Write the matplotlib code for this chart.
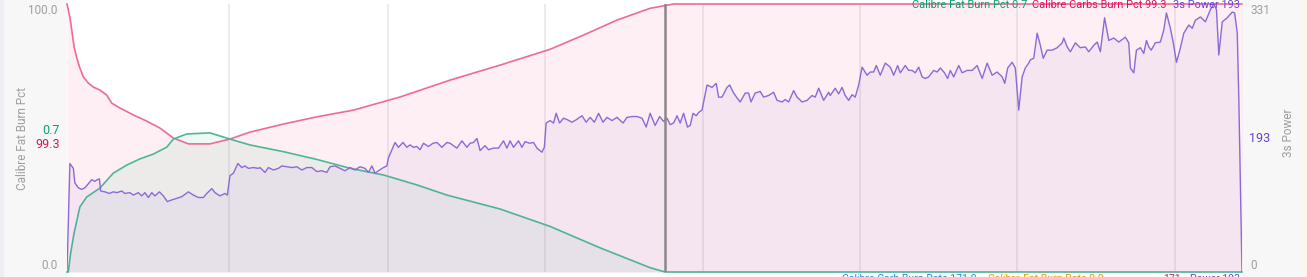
import numpy as np
import matplotlib
matplotlib.use("Agg")
import matplotlib.pyplot as plt
from matplotlib.patches import Rectangle

plt.rcParams['font.family'] = ['Roboto', 'DejaVu Sans']

# ---- data (elapsed seconds) ----
carbs_t = [0, 11, 18, 27, 37, 49, 62, 81, 100, 125, 151, 170, 201, 252, 303, 353, 404,
           461, 543, 619, 695, 822, 949, 1088, 1265, 1455, 1645, 1835, 1962, 2089,
           2215, 2304, 4463]
carbs_pct = [100, 95.1, 90.3, 83.9, 79.9, 76.1, 72.8, 70.5, 69, 67.9, 66, 63, 61.2, 58.6,
             56.3, 53.7, 50, 47.8, 47.8, 49.6, 52.2, 55.2, 57.9, 60.4, 65.3, 71.6, 77.2,
             83.1, 88.4, 94, 98.4, 100, 100]

fat_t = [0, 5, 14, 27, 49, 75, 125, 176, 227, 277, 328, 379, 404, 455, 543, 619, 695,
         822, 949, 1075, 1202, 1329, 1443, 1645, 1835, 2025, 2215, 2272, 4463]
fat_pct = [0, 0, 7.1, 14.6, 24.3, 28, 31.3, 36.9, 39.9, 42.2, 44, 46.6, 49.6, 51.5,
           51.9, 49.6, 47.4, 44.9, 42, 38.7, 36.2, 32.5, 28.7, 23.5, 17, 9, 1.6, 0, 0]

power_t = [0, 11, 24, 30, 43, 56, 68, 81, 94, 106, 115, 123, 128, 144, 161, 176, 189, 208,
           220, 239, 252, 271, 284, 296, 309, 322, 334, 351, 366, 381, 398, 417, 436, 461,
           480, 499, 518, 531, 550, 562, 581, 600, 609, 619, 632, 649, 664, 676, 689, 708,
           727, 733, 752, 765, 784, 803, 816, 835, 854, 873, 892, 911, 930, 949, 968, 987,
           999, 1018, 1037, 1056, 1075, 1094, 1113, 1132, 1145, 1158, 1170, 1183, 1202,
           1215, 1221, 1234, 1246, 1259, 1276, 1291, 1303, 1316, 1329, 1341, 1354, 1373,
           1390, 1405, 1424, 1443, 1455, 1481, 1500, 1519, 1531, 1544, 1557, 1569, 1588,
           1601, 1620, 1639, 1658, 1671, 1683, 1696, 1715, 1728, 1740, 1757, 1772, 1785,
           1804, 1813, 1820, 1835, 1848, 1858, 1871, 1886, 1901, 1918, 1934, 1956, 1972,
           1987, 2003, 2019, 2036, 2051, 2070, 2089, 2112, 2127, 2146, 2165, 2184, 2200,
           2215, 2234, 2251, 2266, 2279, 2291, 2304, 2317, 2329, 2342, 2357, 2367, 2378,
           2390, 2399, 2412, 2421, 2431, 2450, 2466, 2475, 2488, 2507, 2517, 2532, 2545,
           2557, 2576, 2589, 2598, 2614, 2633, 2646, 2665, 2684, 2697, 2716, 2728, 2741,
           2760, 2773, 2792, 2811, 2830, 2842, 2855, 2874, 2893, 2899, 2918, 2931, 2944,
           2956, 2969, 2982, 2994, 3007, 3020, 3039, 3051, 3064, 3074, 3089, 3108, 3127,
           3140, 3155, 3165, 3184, 3197, 3210, 3222, 3235, 3248, 3260, 3273, 3292, 3305,
           3317, 3333, 3345, 3355, 3368, 3387, 3400, 3419, 3438, 3457, 3476, 3495, 3514,
           3533, 3552, 3562, 3573, 3590, 3602, 3615, 3628, 3640, 3653, 3659, 3672, 3685,
           3697, 3708, 3723, 3742, 3761, 3780, 3786, 3799, 3811, 3830, 3849, 3868, 3881,
           3900, 3913, 3925, 3941, 3957, 3976, 3995, 4020, 4033, 4039, 4052, 4062, 4077,
           4090, 4100, 4109, 4118, 4134, 4153, 4166, 4176, 4191, 4202, 4214, 4227, 4242,
           4261, 4274, 4286, 4305, 4324, 4343, 4356, 4366, 4375, 4388, 4407, 4426, 4435,
           4445, 4451, 4463]
power_w = [0, 134, 128, 110, 104, 102, 104, 109, 114, 112, 114, 115, 100, 99, 97, 99, 98,
           100, 97, 98, 95, 98, 94, 98, 92, 98, 94, 99, 94, 87, 89, 91, 93, 99, 95, 92, 92,
           97, 103, 98, 94, 97, 95, 119, 122, 134, 129, 131, 128, 129, 128, 129, 123, 129,
           126, 128, 131, 130, 129, 130, 126, 129, 129, 124, 125, 123, 130, 131, 128, 125,
           129, 126, 130, 128, 123, 131, 122, 125, 129, 131, 141, 151, 160, 154, 160, 154,
           157, 154, 155, 151, 159, 155, 159, 160, 154, 160, 159, 153, 162, 154, 159, 160,
           165, 150, 156, 151, 153, 153, 162, 153, 162, 154, 162, 154, 161, 159, 160, 153,
           148, 154, 184, 187, 184, 196, 184, 190, 188, 185, 188, 193, 185, 191, 185, 196,
           185, 191, 187, 191, 184, 191, 192, 192, 190, 179, 196, 181, 192, 186, 190, 182,
           184, 193, 184, 196, 179, 181, 196, 193, 197, 200, 215, 231, 228, 233, 216, 216,
           228, 231, 221, 215, 210, 221, 221, 210, 221, 223, 216, 218, 222, 212, 210, 213,
           210, 224, 216, 210, 212, 218, 216, 227, 212, 222, 218, 227, 220, 228, 218, 212,
           219, 216, 231, 253, 243, 247, 247, 255, 243, 258, 253, 243, 255, 246, 255, 249,
           249, 246, 253, 241, 239, 241, 249, 247, 252, 246, 239, 249, 241, 255, 246, 249,
           249, 255, 239, 258, 243, 247, 241, 233, 252, 259, 252, 200, 241, 252, 258, 262,
           264, 295, 280, 264, 274, 274, 277, 283, 289, 278, 272, 283, 277, 278, 272, 280,
           284, 272, 314, 286, 289, 284, 290, 283, 252, 246, 274, 277, 270, 286, 278, 274,
           283, 284, 299, 320, 301, 283, 259, 274, 295, 305, 301, 311, 315, 309, 324, 331,
           324, 268, 309, 314, 321, 320, 295, 212, 0]

grid_t = [615, 1220, 1816, 2417, 3013, 3610, 4210]
cursor_t = 2272
t_end = 4463

# colours
c_carbs = '#ee6b93'
c_fat = '#4cb894'
c_power = '#8b6ad8'
t_carbs = '#e0115f'
t_fat = '#0a9e6e'
t_power = '#6a3fd6'
c_label = '#9e9e9e'

W, H = 1307, 277
fig = plt.figure(figsize=(W / 100, H / 100), dpi=100)
fig.patch.set_facecolor('white')

# side panels
fig.add_artist(Rectangle((0, 0), 67 / W, 1, transform=fig.transFigure,
                         facecolor='#f7f7f7', edgecolor='none', zorder=0))
fig.add_artist(Rectangle((0, 0), 4 / W, 1, transform=fig.transFigure,
                         facecolor='#eeeef5', edgecolor='none', zorder=0))
fig.add_artist(Rectangle((1242 / W, 0), 60 / W, 1, transform=fig.transFigure,
                         facecolor='#f7f7f7', edgecolor='none', zorder=0))
fig.add_artist(Rectangle((1302 / W, 0), 5 / W, 1, transform=fig.transFigure,
                         facecolor='#fdf6ef', edgecolor='none', zorder=0))

ax = fig.add_axes([67 / W, 5 / H, 1175 / W, 268 / H])
ax.set_facecolor('white')
ax.set_xlim(0, t_end)
ax.set_ylim(0, 100)

for g in grid_t:
    ax.axvline(g, color='#eae6eb', lw=1.2, zorder=0.5)

ax.fill_between(carbs_t, carbs_pct, color=c_carbs, alpha=0.1, lw=0, zorder=1)
ax.fill_between(fat_t, fat_pct, color=c_fat, alpha=0.09, lw=0, zorder=1)
ax.plot(carbs_t, carbs_pct, color=c_carbs, lw=1.2, zorder=3, clip_on=False)
ax.plot(fat_t, fat_pct, color=c_fat, lw=1.2, zorder=3, clip_on=False)

ax.set_xticks([])
ax.set_yticks([0, 100])
ax.set_yticklabels(['0.0', '100.0'])
ax.tick_params(axis='y', length=0, pad=7, labelsize=8.5, labelcolor=c_label)
lbls = ax.get_yticklabels()
lbls[0].set_verticalalignment('bottom')
lbls[1].set_verticalalignment('top')
for s in ax.spines.values():
    s.set_visible(False)
ax.set_ylabel('Calibre Fat Burn Pct', color=c_label, fontsize=8.5)
ax.yaxis.set_label_coords(-38 / 1175, 0.5)

ax2 = ax.twinx()
ax2.set_ylim(0, 331)
ax2.fill_between(power_t, power_w, color=c_power, alpha=0.07, lw=0, zorder=1)
ax2.plot(power_t, power_w, color=c_power, lw=1.0, zorder=3)
ax2.axvline(cursor_t, color='#8c8888', lw=1.8, zorder=4)
ax2.set_yticks([0, 331])
ax2.set_yticklabels(['0', '331'])
ax2.tick_params(axis='y', length=0, pad=6, labelsize=8.5, labelcolor=c_label)
lbls2 = ax2.get_yticklabels()
lbls2[0].set_verticalalignment('bottom')
lbls2[1].set_verticalalignment('top')
for s in ax2.spines.values():
    s.set_visible(False)
ax2.set_ylabel('3s Power', color=c_label, fontsize=8.5)
ax2.yaxis.set_label_coords(1 + 40 / 1175, 0.52)

# cursor readouts beside the axes
fig.text(60 / W, 1 - 130 / H, '0.7', color=t_fat, fontsize=9, ha='right', va='center')
fig.text(60 / W, 1 - 144 / H, '99.3', color=t_carbs, fontsize=9, ha='right', va='center')
fig.text(1249 / W, 1 - 139 / H, '193', color=t_power, fontsize=9, ha='left', va='center')

# top legend, right-aligned pieces
fig.text(1027 / W, 1 - 5 / H, 'Calibre Fat Burn Pct 0.7', color=t_fat, fontsize=7.9,
         ha='right', va='center')
fig.text(1167 / W, 1 - 5 / H, 'Calibre Carbs Burn Pct 99.3', color=t_carbs, fontsize=7.9,
         ha='right', va='center')
fig.text(1240 / W, 1 - 5 / H, '3s Power 193', color=t_power, fontsize=7.9,
         ha='right', va='center')

# bottom legend, cut off by the figure edge
fig.text(842 / W, 3.5 / H, 'Calibre Carb Burn Rate 171.0', color='#1e88e5', fontsize=7.6,
         ha='left', va='top')
fig.text(988 / W, 3.5 / H, 'Calibre Fat Burn Rate 0.0', color='#f59300', fontsize=7.6,
         ha='left', va='top')
fig.text(1163 / W, 3.5 / H, '171', color='#e0115f', fontsize=7.6, ha='left', va='top')
fig.text(1190 / W, 3.5 / H, 'Power 193', color=t_power, fontsize=7.6, ha='left', va='top')

fig.savefig('out.png', dpi=100)
